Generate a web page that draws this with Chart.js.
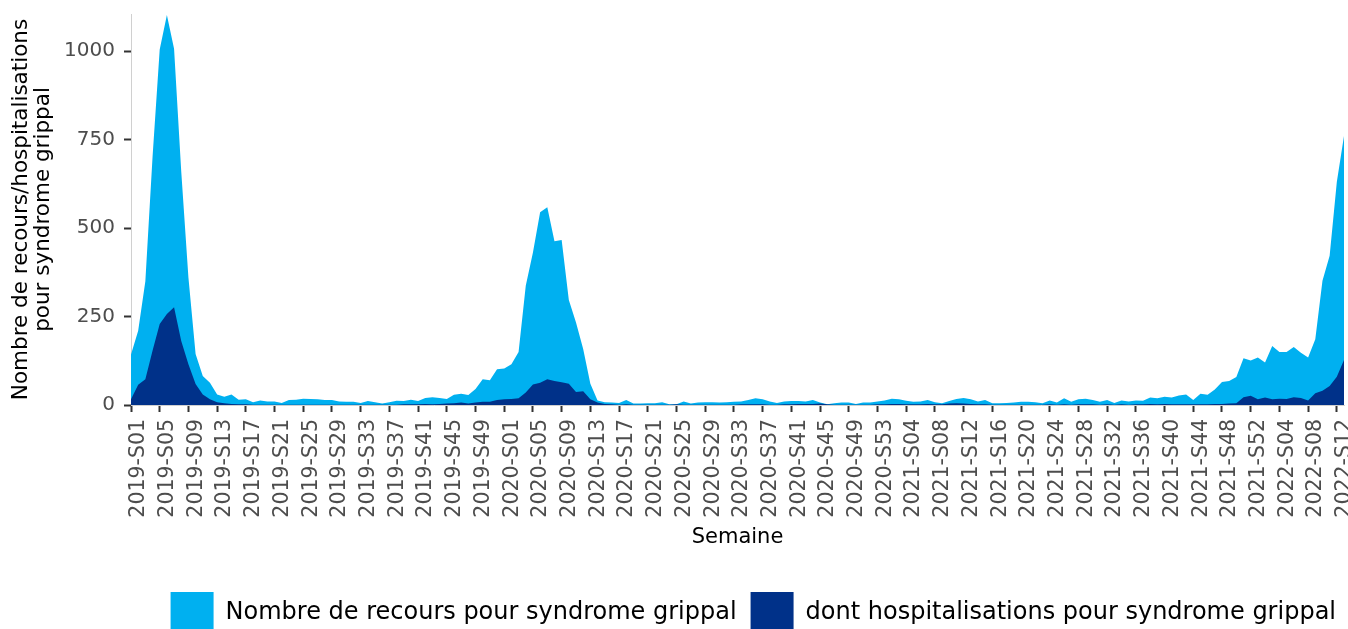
<!DOCTYPE html>
<html>
<head>
<meta charset="utf-8">
<script src="https://cdn.jsdelivr.net/npm/chart.js@4.4.1/dist/chart.umd.min.js"></script>
<style>
  html, body { margin: 0; padding: 0; background: #ffffff; overflow: hidden; }
  #wrap { width: 1348px; height: 644px; }
</style>
</head>
<body>
<div id="wrap"><canvas id="c" width="1348" height="644"></canvas></div>
<script>
// Weeks per year shown on the axis
const yearWeeks = [[2019, 52], [2020, 53], [2021, 52], [2022, 13]];
const weeks = [];
yearWeeks.forEach(([y, n]) => {
  for (let w = 1; w <= n; w++) weeks.push(y + '-S' + String(w).padStart(2, '0'));
});

// Nombre de recours pour syndrome grippal
const recours = [
  143,210,350,700,1005,1102,1007,660,360,144,
  82,63,30,23,30,15,16,8,13,10,
  10,6,14,15,18,17,16,14,14,10,
  9,9,6,11,8,4,8,12,11,15,
  11,20,22,20,17,29,32,28,45,73,
  70,101,103,115,150,337,431,545,559,463,
  466,297,233,158,60,13,8,7,6,14,
  4,4,5,5,8,2,2,10,4,7,
  8,8,7,8,9,10,14,19,16,10,
  6,10,11,11,10,14,7,2,5,7,
  7,3,7,7,10,13,18,16,12,9,
  10,14,8,5,11,17,20,16,10,14,
  5,5,6,7,9,9,8,5,13,7,
  19,9,16,18,14,9,14,6,13,10,
  13,12,21,19,23,21,27,30,14,32,
  29,44,65,68,79,132,126,134,120,167,
  150,150,164,148,134,186,351,422,630,760
];

// dont hospitalisations pour syndrome grippal
const hospit = [
  16,57,73,153,229,257,276,181,115,59,
  30,16,8,5,3,2,2,1,1,1,
  1,1,1,1,1,1,1,1,1,1,
  1,1,1,1,1,1,1,1,2,2,
  2,3,2,3,4,5,7,4,7,9,
  9,14,16,17,19,35,58,63,73,68,
  64,60,37,39,16,7,3,2,1,2,
  1,1,1,1,1,1,2,1,1,1,
  1,1,1,1,1,2,2,2,2,1,
  1,2,2,3,3,3,4,2,1,1,
  1,1,1,1,2,2,3,3,2,2,
  2,3,2,2,4,5,4,3,2,2,
  1,1,1,1,1,1,1,1,2,1,
  2,1,2,2,2,1,2,1,2,1,
  2,2,3,2,3,2,2,2,2,2,
  2,3,3,4,5,22,26,16,21,16,
  18,17,22,20,13,33,40,54,80,127
];

const yTicks = [0, 250, 500, 750, 1000];
const seriesNames = ['Nombre de recours pour syndrome grippal', 'dont hospitalisations pour syndrome grippal'];
const LIGHT = '#00B0F0';
const DARK = '#003189';

new Chart(document.getElementById('c'), {
  type: 'line',
  data: {
    labels: weeks,
    datasets: [
      { label: seriesNames[0], data: recours, backgroundColor: LIGHT, borderColor: LIGHT,
        borderWidth: 0, pointRadius: 0, fill: 'origin', tension: 0, order: 2 },
      { label: seriesNames[1], data: hospit, backgroundColor: DARK, borderColor: DARK,
        borderWidth: 0, pointRadius: 0, fill: 'origin', tension: 0, order: 1 }
    ]
  },
  options: {
    responsive: false,
    animation: false,
    events: [],
    layout: { padding: { left: 0, right: -2, top: 14, bottom: 0 } },
    plugins: {
      tooltip: { enabled: false },
      legend: {
        position: 'bottom',
        align: 'end',
        labels: {
          boxWidth: 43, boxHeight: 42, padding: 14,
          color: '#000000',
          font: { family: 'DejaVu Sans', size: 24 },
          sort: (a, b) => a.datasetIndex - b.datasetIndex
        }
      }
    },
    scales: {
      x: {
        type: 'category',
        offset: false,
        afterFit: (s) => { s.height = 173; s.paddingRight = 4; },
        border: { display: true, color: '#d0d0d0', width: 1 },
        grid: {
          drawOnChartArea: false, drawTicks: true, tickLength: 7,
          tickColor: '#333333', tickWidth: 2
        },
        ticks: {
          autoSkip: false, minRotation: 90, maxRotation: 90, padding: 7,
          labelOffset: 8,
          color: '#4D4D4D', font: { family: 'DejaVu Sans', size: 20.5 },
          callback: function (v, i) { return i % 4 === 0 ? this.getLabelForValue(v) : null; }
        },
        title: {
          display: true, text: 'Semaine', color: '#000000',
          font: { family: 'DejaVu Sans', size: 21 },
          padding: { top: 4, bottom: 28 }
        }
      },
      y: {
        min: 0, max: 1105,
        afterFit: (s) => { s.width = 131; s.paddingTop = 0; s.paddingBottom = 0; },
        afterBuildTicks: (s) => { s.ticks = yTicks.map(v => ({ value: v })); },
        border: { display: true, color: '#d0d0d0', width: 1 },
        grid: {
          drawOnChartArea: false, drawTicks: true, tickLength: 7,
          tickColor: '#333333', tickWidth: 2
        },
        ticks: {
          padding: 9, color: '#4D4D4D', font: { family: 'DejaVu Sans', size: 20 },
          callback: (v) => String(v)
        },
        title: {
          display: true,
          text: ['Nombre de recours/hospitalisations', 'pour syndrome grippal'],
          color: '#000000',
          font: { family: 'DejaVu Sans', size: 21.5, lineHeight: 1.05 },
          padding: { top: 10, bottom: 4 }
        }
      }
    }
  }
});
</script>
</body>
</html>
